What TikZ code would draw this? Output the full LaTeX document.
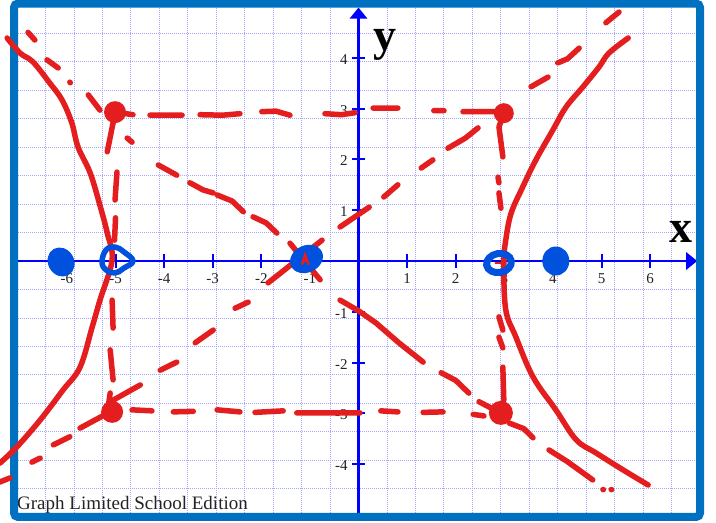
\documentclass[tikz,border=0pt]{standalone}
\usepackage{fontspec}
\setmainfont{Liberation Serif}
\usetikzlibrary{arrows.meta}
\definecolor{framecol}{RGB}{0,112,192}
\definecolor{axiscol}{RGB}{0,0,255}
\definecolor{gridcol}{RGB}{165,165,255}
\definecolor{penred}{RGB}{228,30,30}
\definecolor{penblue}{RGB}{0,82,222}
\definecolor{labelcol}{RGB}{35,35,35}
\begin{document}
\begin{tikzpicture}[x=48.6pt,y=50.8pt,
  pen/.style={penred,line width=5.5pt,line cap=round,line join=round},
  bluepen/.style={penblue,line width=5.5pt,line cap=round,line join=round},
  gridline/.style={gridcol,line width=0.8pt,dash pattern=on 1pt off 1pt},
  axisline/.style={axiscol,line width=3pt},
  tickmark/.style={axiscol,line width=2pt},
  ticklabel/.style={labelcol,font=\fontsize{15}{15}\selectfont,inner sep=0pt},
  axisname/.style={black,font=\fontsize{46}{46}\selectfont\bfseries,inner sep=0pt,anchor=base}]
\useasboundingbox (-7.377,-5.138) rectangle (7.356,5.138);
\fill[white] (-7.377,-5.138) rectangle (7.356,5.138);
% grid
\draw[gridline] (-7,-5) grid (7,5);
% axes
\draw[axisline,-{Triangle[length=11pt,width=17pt]}] (-7,0) -- (6.97,0);
\draw[axisline,-{Triangle[length=11pt,width=17pt]}] (0,-5) -- (0,4.99);
\foreach \i in {-6,...,6} \draw[tickmark] (\i,-0.14) -- (\i,0.14);
\foreach \j in {-4,...,4} \draw[tickmark] (-0.125,\j) -- (0.125,\j);
\foreach \i in {-6,-5,-4,-3,-2,-1,1,2,3,4,5,6}
  \node[ticklabel] (xl\i) at (\i,-0.354) {\i};
\foreach \j in {-4,-3,-2,-1,1,2,3,4}
  \node[ticklabel,anchor=east] (yl\j) at (-0.22,\j-0.03) {\j};
\node[axisname] (ylab) at (0.545,4.15) {y};
\node[axisname] (xlab) at (6.636,0.374) {x};
\node[labelcol,font=\fontsize{19}{19}\selectfont,inner sep=0pt,anchor=base west] (brand) at (-7.027,-4.90) {Graph Limited School Edition};
% frame
\draw[framecol,line width=8pt,rounded corners=4pt] (-7.088,-5.039) rectangle (7.027,5.069);
% hyperbola branches
\draw[pen] plot[smooth,tension=0.6] coordinates {(-7.23,4.39) (-6.96,4.09) (-6.70,3.92) (-6.35,3.50) (-6.10,3.17) (-5.90,2.72) (-5.77,2.24) (-5.52,1.73) (-5.31,1.06) (-5.17,0.55) (-5.07,0.02) (-5.32,-0.77) (-5.48,-1.30) (-5.73,-2.09) (-6.08,-2.54) (-6.55,-3.13) (-7.03,-3.66) (-7.38,-3.98)};
\draw[pen] plot[smooth,tension=0.6] coordinates {(5.55,4.39) (5.15,4.09) (4.95,3.82) (4.62,3.43) (4.27,3.03) (4.00,2.58) (3.65,1.99) (3.38,1.46) (3.14,0.94) (3.03,0.41) (2.99,-0.04) (3.03,-0.96) (3.24,-1.50) (3.59,-2.28) (4.06,-2.93) (4.48,-3.52) (4.89,-3.78) (5.44,-4.11) (5.96,-4.41)};
% falling asymptote
\draw[pen] (-6.8,4.5) -- (-6.66,4.35)
  (-6.41,3.96) -- (-6.18,3.8)
  (-5.94,3.52) -- (-5.93,3.51)
  (-5.56,3.27) -- (-5.32,2.97)
  (-4.76,2.42) -- (-4.66,2.34)
  (-4.12,1.89) -- (-3.74,1.69)
  (-3.47,1.54) -- (-3.2,1.40) -- (-2.99,1.34)
  (-2.91,1.30) -- (-2.6,1.18) -- (-2.37,0.97)
  (-2.17,0.87) -- (-1.9,0.75) -- (-1.68,0.55)
  (-1.41,0.35) -- (-0.79,-0.37)
  (-0.38,-0.77) -- (0.0,-0.98) -- (0.36,-1.22) -- (0.83,-1.61) -- (1.33,-1.99)
  (1.70,-2.20) -- (2.0,-2.35) -- (2.27,-2.6)
  (2.48,-2.77) -- (2.9,-2.98)
  (3.1,-3.19) -- (3.4,-3.3) -- (3.59,-3.48)
  (3.92,-3.72) -- (4.3,-3.95) -- (4.82,-4.31)
  (5.03,-4.5) -- (5.04,-4.5)
  (5.2,-4.5) -- (5.21,-4.5);
% rising asymptote
\draw[pen] (-7.38,-4.35) -- (-7.17,-4.27)
  (-6.72,-3.96) -- (-6.55,-3.88)
  (-6.28,-3.62) -- (-5.94,-3.46)
  (-5.73,-3.29) -- (-5.11,-2.97)
  (-5.05,-2.74) -- (-4.49,-2.44)
  (-4.08,-2.15) -- (-3.74,-1.99)
  (-3.36,-1.61) -- (-2.99,-1.36)
  (-2.54,-0.93) -- (-2.27,-0.81)
  (-1.86,-0.43) -- (-0.75,0.41)
  (-0.38,0.67) -- (0.22,1.06)
  (0.52,1.26) -- (0.81,1.50)
  (1.29,1.83) -- (1.53,1.99)
  (1.84,2.22) -- (2.2,2.42) -- (2.46,2.62)
  (3.55,3.43) -- (3.9,3.62)
  (4.1,3.9) -- (4.3,3.98) -- (4.54,4.19)
  (5.09,4.69) -- (5.36,4.9);
% rectangle, top edge
\draw[pen] (-5.0,2.93) -- (-4.64,2.88)
  (-4.29,2.87) -- (-3.63,2.87)
  (-3.26,2.88) -- (-2.8,2.87) -- (-2.44,2.9)
  (-1.99,2.94) -- (-1.7,2.95) -- (-1.41,2.87)
  (-0.69,2.9) -- (-0.35,2.88) -- (-0.07,2.92)
  (0.3,3.01) -- (0.81,3.01)
  (1.55,2.96) -- (1.76,2.96)
  (2.15,2.94) -- (2.79,2.94);
% bottom edge
\draw[pen] (-4.66,-2.93) -- (-4.25,-2.95)
  (-3.81,-2.97) -- (-3.40,-2.96)
  (-2.91,-2.93) -- (-2.44,-2.97)
  (-2.13,-2.98) -- (-1.55,-2.95)
  (-1.27,-2.99) -- (0.03,-2.99)
  (0.46,-2.95) -- (0.81,-2.97)
  (1.33,-2.98) -- (1.74,-2.97)
  (2.36,-3.02) -- (2.58,-3.05);
% left edge
\draw[pen] (-5.05,2.72) -- (-5.17,2.15)
  (-4.97,1.75) -- (-5.01,1.2)
  (-5.0,0.85) -- (-5.02,0.41)
  (-5.07,-0.77) -- (-5.05,-1.32)
  (-5.11,-1.75) -- (-5.05,-2.34)
  (-5.11,-2.6) -- (-5.15,-2.87);
% right edge
\draw[pen] (2.99,2.91) -- (2.89,2.64) -- (2.97,2.05)
  (2.87,1.65) -- (2.89,1.54)
  (2.89,1.34) -- (2.93,1.04)
  (2.89,-1.1) -- (2.97,-1.36)
  (2.89,-1.5) -- (2.97,-1.71)
  (2.97,-2.09) -- (2.99,-2.74);
% corner dots
\fill[penred] (-5.01,2.93) circle (11pt);
\fill[penred] (2.99,2.91) circle (10pt);
\fill[penred] (-5.07,-2.97) circle (11pt);
\fill[penred] (2.93,-2.99) circle (12pt);
% blue marks
\fill[penblue] (-6.12,-0.02) ellipse [x radius=13pt,y radius=15pt,rotate=30];
\fill[penblue] (-1.07,0.04) ellipse [x radius=17pt,y radius=13.5pt,rotate=25];
\fill[penblue] (4.06,0) ellipse [x radius=13.5pt,y radius=14.5pt];
\draw[bluepen] plot[smooth cycle,tension=0.7] coordinates {(-5.278,-0.02) (-5.195,0.217) (-5.01,0.276) (-4.825,0.177) (-4.64,0) (-4.825,-0.138) (-5.01,-0.236) (-5.195,-0.177)};
\draw[penblue,line width=7pt] (2.89,-0.04) ellipse [x radius=12.5pt,y radius=9.5pt,rotate=10];
% small red marks on top
\draw[penred,line width=2.5pt,line cap=round] (-1.16,-0.06) -- (-1.1,0.12) -- (-1.03,-0.06) (-1.13,0.0) -- (-1.06,0.0);
\draw[penred,line width=2.5pt,line cap=round] (2.82,-0.04) -- (3.02,-0.04);
\draw[penred,line width=2.5pt,line cap=round] (-5.09,0.12) -- (-5.07,-0.04);
\end{tikzpicture}
\end{document}
